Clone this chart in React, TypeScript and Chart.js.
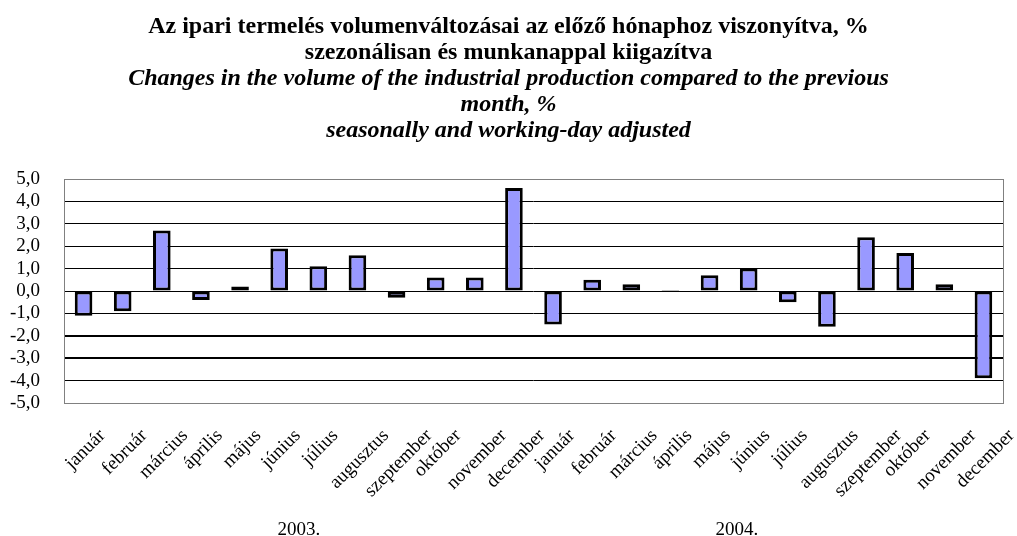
import React, { useEffect, useRef } from "react";
import { Chart, registerables } from "chart.js";

Chart.register(...registerables);

const months = [
  "január", "február", "március", "április", "május", "június",
  "július", "augusztus", "szeptember", "október", "november", "december",
];
const categories = [...months, ...months];

const values2003 = [-1.1, -0.9, 2.7, -0.4, 0.2, 1.9, 1.1, 1.6, -0.3, 0.6, 0.6, 4.6];
const values2004 = [-1.5, 0.5, 0.3, 0.05, 0.7, 1.0, -0.5, -1.6, 2.4, 1.7, 0.3, -3.9];
const values = [...values2003, ...values2004];

const yearLabels = ["2003.", "2004."];
const yearPositions = [5.5, 16.7];

const titleHu = [
  "Az ipari termelés volumenváltozásai az előző hónaphoz viszonyítva, %",
  "szezonálisan és munkanappal kiigazítva",
];
const titleEn = [
  "Changes in the volume of the industrial production compared to the previous",
  "month, %",
  "seasonally and working-day adjusted",
];

const yMin = -5;
const yMax = 5;
const yStep = 1;

const FONT = "'Liberation Serif', 'Times New Roman', serif";

const decorPlugin = {
  id: "decor",
  beforeDatasetsDraw(chart: any) {
    const { ctx, chartArea } = chart;
    ctx.save();
    ctx.strokeStyle = "#808080";
    ctx.lineWidth = 1;
    ctx.strokeRect(
      Math.round(chartArea.left) + 0.5,
      Math.round(chartArea.top) + 0.5,
      Math.round(chartArea.right - chartArea.left),
      Math.round(chartArea.bottom - chartArea.top)
    );
    ctx.restore();
  },
  afterDraw(chart: any) {
    const { ctx, chartArea } = chart;
    const xs = chart.scales.x;
    ctx.save();
    ctx.font = `19px ${FONT}`;
    ctx.fillStyle = "#000";
    ctx.textAlign = "center";
    ctx.textBaseline = "middle";
    categories.forEach((lab, i) => {
      const x = xs.getPixelForValue(i) + 2;
      const w = ctx.measureText(lab).width;
      const cy = chartArea.bottom + 27 + (w / 2 + 4) * Math.SQRT1_2;
      ctx.save();
      ctx.translate(x, cy);
      ctx.rotate(-Math.PI / 4);
      ctx.fillText(lab, 0, 0);
      ctx.restore();
    });
    ctx.textBaseline = "alphabetic";
    yearLabels.forEach((lab, i) => {
      const x = xs.getPixelForValue(yearPositions[i]);
      ctx.fillText(lab, x, chart.height - 1);
    });
    ctx.restore();
  },
};

export default function App() {
  const ref = useRef<HTMLCanvasElement | null>(null);

  useEffect(() => {
    if (!ref.current) return;
    const chart = new Chart(ref.current, {
      type: "bar",
      data: {
        labels: categories,
        datasets: [
          {
            data: values,
            backgroundColor: "#9999FF",
            borderColor: "#000000",
            borderWidth: 3,
            borderSkipped: false,
            barPercentage: 0.45,
            categoryPercentage: 1,
          },
        ],
      },
      options: {
        responsive: false,
        animation: false,
        layout: { padding: { left: 0, right: 0, top: 0, bottom: 125 } },
        plugins: {
          legend: { display: false },
          tooltip: { enabled: false },
          title: {
            display: true,
            text: titleHu,
            color: "#000",
            font: { family: FONT, size: 24, weight: "bold", lineHeight: 26 / 24 },
            padding: { top: 14, bottom: 0 },
          },
          subtitle: {
            display: true,
            text: titleEn,
            color: "#000",
            font: { family: FONT, size: 24, weight: "bold", style: "italic", lineHeight: 26 / 24 },
            padding: { top: 0, bottom: 35 },
          },
        },
        scales: {
          x: {
            grid: { display: false },
            border: { display: false },
            ticks: { display: false },
          },
          y: {
            min: yMin,
            max: yMax,
            afterFit: (scale: any) => {
              scale.width = 64;
            },
            border: { display: false },
            grid: {
              drawTicks: false,
              color: (c: any) =>
                c.tick && (c.tick.value === yMax || c.tick.value === yMin) ? "#808080" : "#000000",
              lineWidth: (c: any) =>
                c.tick && (c.tick.value === -2 || c.tick.value === -3) ? 2 : 1,
            },
            ticks: {
              stepSize: yStep,
              autoSkip: false,
              padding: 24,
              color: "#000",
              font: { family: FONT, size: 19 },
              callback: (v: any) => Number(v).toFixed(1).replace(".", ","),
            },
          },
          yRight: {
            position: "right",
            min: yMin,
            max: yMax,
            afterFit: (scale: any) => {
              scale.width = 14;
            },
            grid: { display: false, drawTicks: false },
            border: { display: false },
            ticks: { display: false },
          },
        },
      },
      plugins: [decorPlugin],
    });
    return () => chart.destroy();
  }, []);

  return (
    <div style={{ position: "absolute", left: 0, top: 0, width: 1017, height: 536, background: "#fff" }}>
      <canvas ref={ref} width={1017} height={536} style={{ display: "block" }} />
    </div>
  );
}
